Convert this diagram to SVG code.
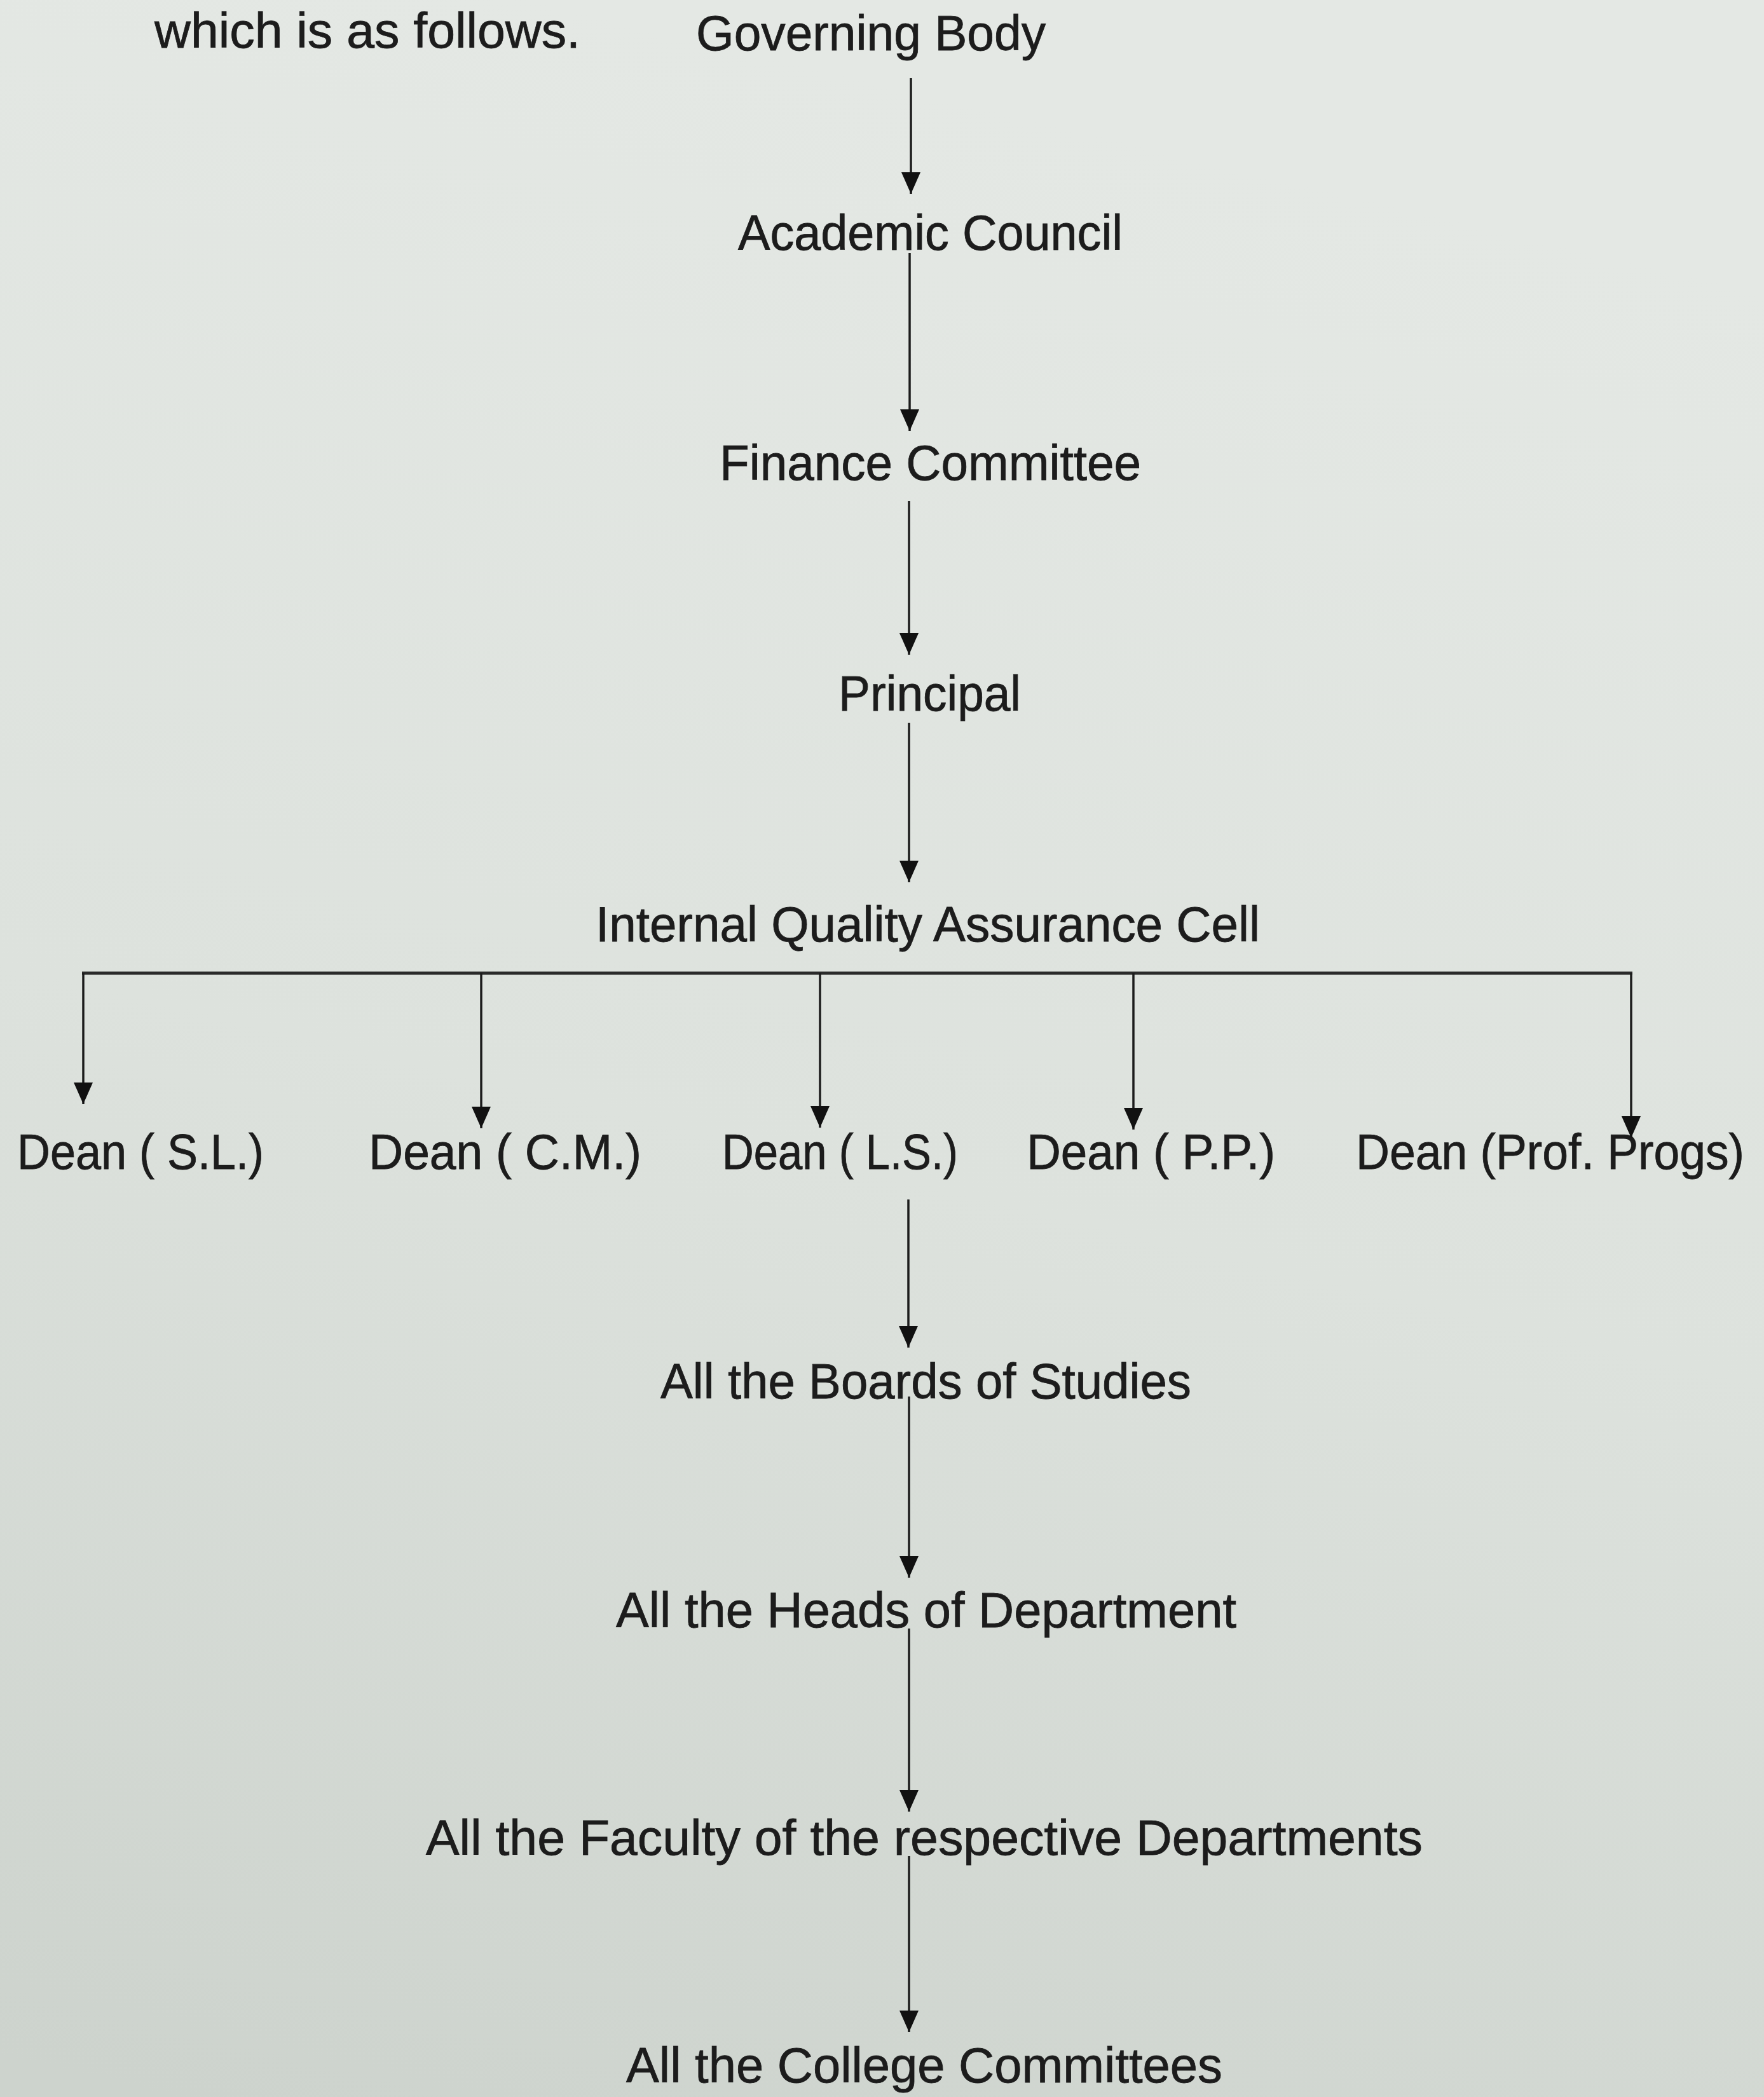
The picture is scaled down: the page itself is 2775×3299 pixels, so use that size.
<svg xmlns="http://www.w3.org/2000/svg" width="2775" height="3299" viewBox="0 0 2775 3299">
  <style>
    .t { font-family: "Liberation Sans", Arial, sans-serif; font-size: 77px; fill: #1c1c1c; stroke: #1c1c1c; stroke-width: 0.8; }
    .c { stroke: #1c1c1c; stroke-width: 3.5; fill: none; }
    .bar { stroke: #2a2a2a; stroke-width: 5; fill: none; }
  </style>
  <defs>
    <linearGradient id="bg" x1="0.3" y1="0" x2="0.1" y2="1">
      <stop offset="0" stop-color="#e4e8e4"/>
      <stop offset="0.5" stop-color="#dde2dd"/>
      <stop offset="1" stop-color="#cdd3cd"/>
    </linearGradient>
    <marker id="ah" markerUnits="userSpaceOnUse" markerWidth="34" markerHeight="30" viewBox="0 0 34 30" refX="34" refY="15" orient="auto">
      <path d="M0,0 L34,15 L0,30 z" fill="#111"/>
    </marker>
  </defs>
  <rect width="2775" height="3299" fill="url(#bg)"/>

  <text class="t" x="243" y="75" textLength="670" lengthAdjust="spacingAndGlyphs">which is as follows.</text>

  <g id="governing-body"><text class="t" x="1095" y="79" textLength="550" lengthAdjust="spacingAndGlyphs">Governing Body</text></g>
  <g id="academic-council"><text class="t" x="1161" y="393" textLength="605" lengthAdjust="spacingAndGlyphs">Academic Council</text></g>
  <g id="finance-committee"><text class="t" x="1132" y="755" textLength="663" lengthAdjust="spacingAndGlyphs">Finance Committee</text></g>
  <g id="principal"><text class="t" x="1319" y="1118" textLength="287" lengthAdjust="spacingAndGlyphs">Principal</text></g>
  <g id="iqac"><text class="t" x="937" y="1481" textLength="1045" lengthAdjust="spacingAndGlyphs">Internal Quality Assurance Cell</text></g>
  <g id="dean-sl"><text class="t" x="27" y="1839" textLength="388" lengthAdjust="spacingAndGlyphs">Dean ( S.L.)</text></g>
  <g id="dean-cm"><text class="t" x="580" y="1839" textLength="429" lengthAdjust="spacingAndGlyphs">Dean ( C.M.)</text></g>
  <g id="dean-ls"><text class="t" x="1136" y="1839" textLength="371" lengthAdjust="spacingAndGlyphs">Dean ( L.S.)</text></g>
  <g id="dean-pp"><text class="t" x="1615" y="1839" textLength="391" lengthAdjust="spacingAndGlyphs">Dean ( P.P.)</text></g>
  <g id="dean-prof"><text class="t" x="2133" y="1839" textLength="611" lengthAdjust="spacingAndGlyphs">Dean (Prof. Progs)</text></g>
  <g id="boards"><text class="t" x="1039" y="2200" textLength="835" lengthAdjust="spacingAndGlyphs">All the Boards of Studies</text></g>
  <g id="heads"><text class="t" x="969" y="2560" textLength="976" lengthAdjust="spacingAndGlyphs">All the Heads of Department</text></g>
  <g id="faculty"><text class="t" x="670" y="2918" textLength="1568" lengthAdjust="spacingAndGlyphs">All the Faculty of the respective Departments</text></g>
  <g id="committees"><text class="t" x="985" y="3276" textLength="938" lengthAdjust="spacingAndGlyphs">All the College Committees</text></g>

  <g id="connectors">
    <line class="c" x1="1433" y1="123" x2="1433" y2="305" marker-end="url(#ah)"/>
    <line class="c" x1="1431" y1="398" x2="1431" y2="678" marker-end="url(#ah)"/>
    <line class="c" x1="1430" y1="788" x2="1430" y2="1030" marker-end="url(#ah)"/>
    <line class="c" x1="1430" y1="1137" x2="1430" y2="1388" marker-end="url(#ah)"/>
    <line class="bar" x1="129" y1="1531" x2="2568" y2="1531"/>
    <line class="c" x1="131" y1="1531" x2="131" y2="1737" marker-end="url(#ah)"/>
    <line class="c" x1="757" y1="1531" x2="757" y2="1775" marker-end="url(#ah)"/>
    <line class="c" x1="1290" y1="1531" x2="1290" y2="1774" marker-end="url(#ah)"/>
    <line class="c" x1="1783" y1="1531" x2="1783" y2="1777" marker-end="url(#ah)"/>
    <line class="c" x1="2566" y1="1531" x2="2566" y2="1790" marker-end="url(#ah)"/>
    <line class="c" x1="1429" y1="1887" x2="1429" y2="2120" marker-end="url(#ah)"/>
    <line class="c" x1="1430" y1="2197" x2="1430" y2="2482" marker-end="url(#ah)"/>
    <line class="c" x1="1430" y1="2562" x2="1430" y2="2850" marker-end="url(#ah)"/>
    <line class="c" x1="1430" y1="2920" x2="1430" y2="3197" marker-end="url(#ah)"/>
  </g>
</svg>
